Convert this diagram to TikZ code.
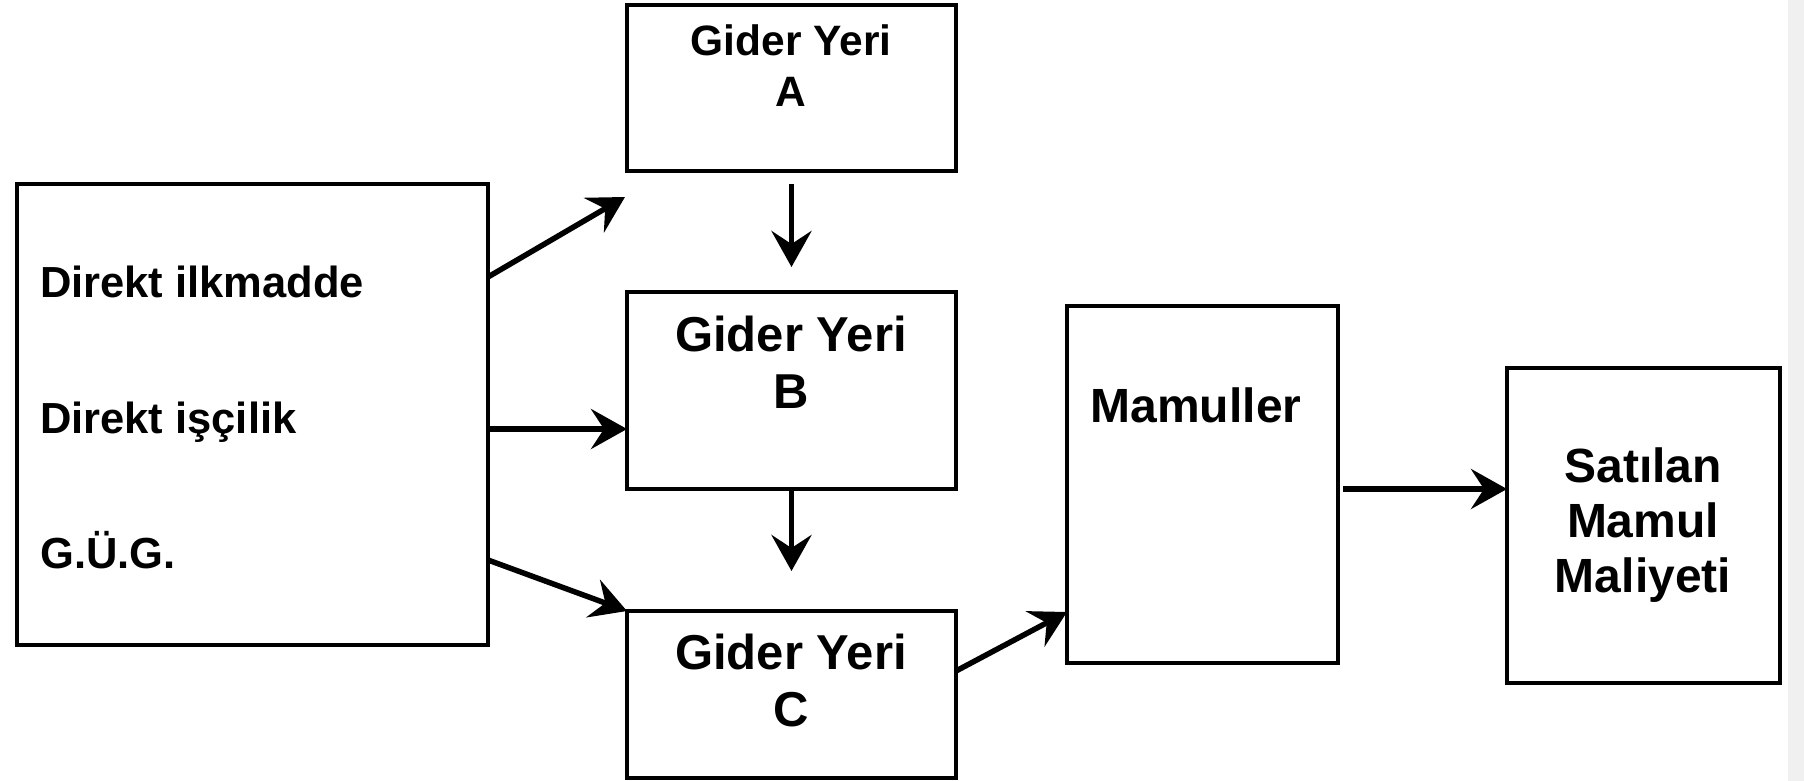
\documentclass[tikz,border=0pt]{standalone}
\usepackage{fontspec}
\setmainfont{Liberation Sans}
\usepackage{tikz}
\usetikzlibrary{arrows.meta}
\tikzset{box/.style={draw, rectangle, line width=4pt, inner sep=0pt, outer sep=0pt}}
\tikzset{arr/.style={line width=5.5pt, -{Stealth[length=36pt, width=40pt, inset=13pt]}}}
\tikzset{lbl/.style={font=\bfseries, inner sep=0pt, align=center}}

\begin{document}
\begin{tikzpicture}[x=1pt, y=-1pt]

\useasboundingbox (0,0) rectangle (1804,781);
\fill[black!6] (1788,0) rectangle (1804,781);

\node[box, minimum width=471pt, minimum height=461pt] (src) at (252.5, 414.5) {};
\node[box, minimum width=329pt, minimum height=166pt] (A) at (791.5, 88) {};
\node[box, minimum width=329pt, minimum height=197pt] (B) at (791.5, 390.5) {};
\node[box, minimum width=329pt, minimum height=167pt] (C) at (791.5, 694.5) {};
\node[box, minimum width=271pt, minimum height=357pt] (mam) at (1202.5, 484.5) {};
\node[box, minimum width=273pt, minimum height=315pt] (sat) at (1643.5, 525.5) {};

% texts
\node[lbl, anchor=base west, font=\bfseries\fontsize{43.5}{51}\selectfont] (dim) at (40, 297) {Direkt ilkmadde};
\node[lbl, anchor=base west, font=\bfseries\fontsize{43.5}{51}\selectfont] (dis) at (40, 433) {Direkt işçilik};
\node[lbl, anchor=base west, font=\bfseries\fontsize{43.5}{51}\selectfont] (gug) at (40, 568) {G.Ü.G.};
\node[lbl, font=\bfseries\fontsize{42.5}{51}\selectfont] (Atxt) at (791, 66) {Gider Yeri\\A};
\node[lbl, font=\bfseries\fontsize{49}{57}\selectfont] (Btxt) at (791, 362.5) {Gider Yeri\\B};
\node[lbl, font=\bfseries\fontsize{49}{57}\selectfont] (Ctxt) at (791, 680) {Gider Yeri\\C};
\node[lbl, anchor=base, font=\bfseries\fontsize{48}{55}\selectfont] (mamtxt) at (1196, 422) {Mamuller};
\node[lbl, font=\bfseries\fontsize{48}{55}\selectfont] (sattxt) at (1643, 525) {Satılan\\Mamul\\Maliyeti};

\coordinate (toA) at (625, 197);

\draw[arr] (src.east |- 0,277) -- (toA);
\draw[arr] (src.east |- 0,429) -- (B.west |- 0,429);
\draw[arr] (src.east |- 0,560) -- (C.north west);
\draw[arr, shorten <=13pt, shorten >=25pt] (A.south) -- (B.north);
\draw[arr, shorten >=40pt] (B.south) -- (C.north);
\draw[arr] (C.east |- 0,671) -- (mam.west |- 0,612);
\draw[arr, shorten <=5pt] (mam.east |- 0,489) -- (sat.west |- 0,489);

\end{tikzpicture}
\end{document}
